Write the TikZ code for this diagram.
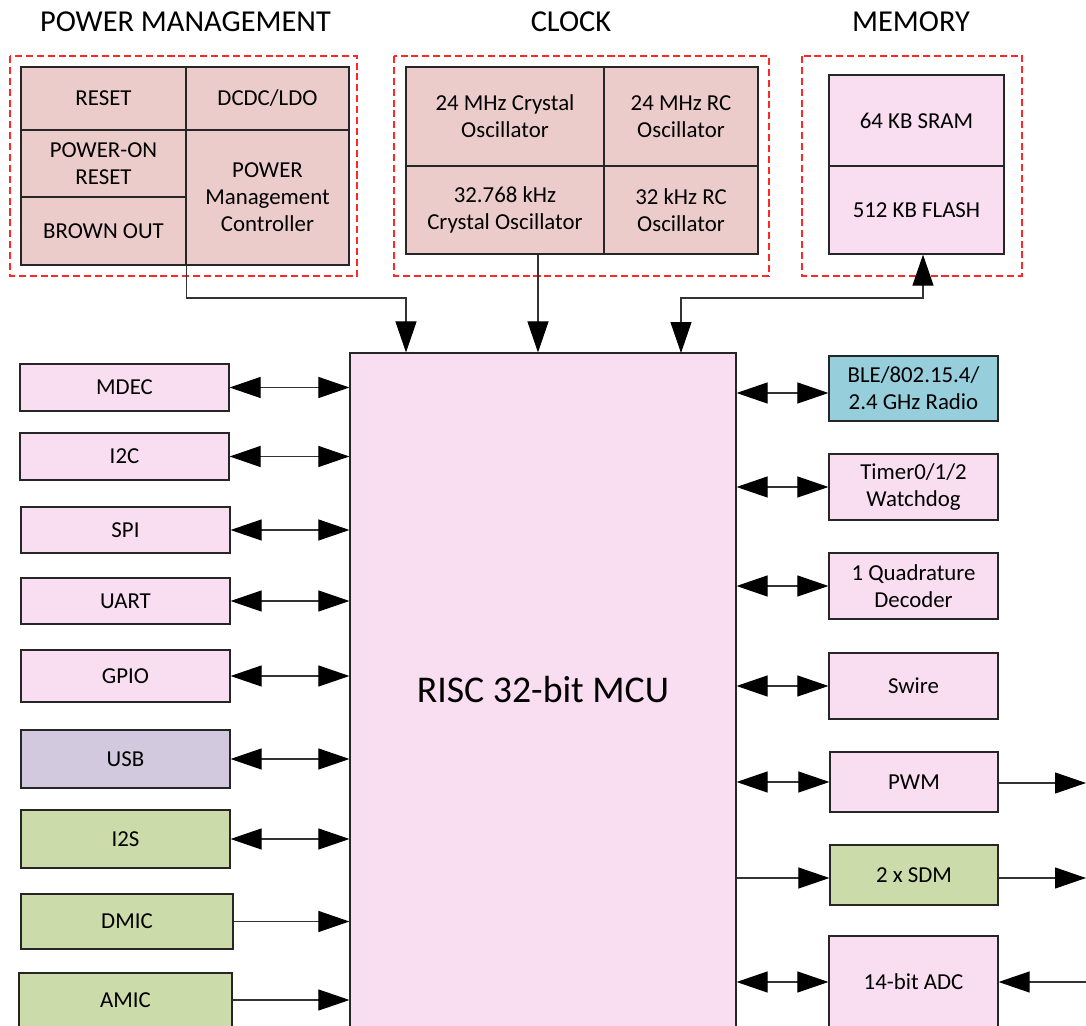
\documentclass[tikz,border=0pt]{standalone}
\usepackage{fontspec}
\setmainfont{Carlito}
\usetikzlibrary{arrows.meta}
\definecolor{pinkf}{RGB}{249,222,242}
\definecolor{rosef}{RGB}{236,204,203}
\definecolor{bluef}{RGB}{150,206,220}
\definecolor{lavf}{RGB}{210,201,222}
\definecolor{greenf}{RGB}{204,219,170}
\definecolor{grpred}{RGB}{255,40,40}
\begin{document}
\begin{tikzpicture}[x=0.02cm,y=-0.02cm,
  box/.style={draw=black!85, line width=0.7pt, inner sep=0pt, align=center,
    font=\fontsize{13}{15.3}\selectfont},
  pinkbox/.style={box, fill=pinkf},
  rosebox/.style={box, fill=rosef},
  greenbox/.style={box, fill=greenf},
  grp/.style={draw=grpred, dash pattern=on 4pt off 2.2pt, line width=0.6pt},
  ttl/.style={font=\fontsize{17.3}{20}\selectfont, anchor=base, inner sep=0pt},
  conn/.style={draw=black!80, line width=0.6pt},
  >={Triangle[length=0.62cm,width=0.42cm,color=black]}]
\clip (0,0) rectangle (1086,1026);
\fill[white] (0,0) rectangle (1086,1026);

% titles
\node[ttl] (tpm) at (185.5,32) {POWER MANAGEMENT};
\node[ttl] (tclk) at (571,32) {CLOCK};
\node[ttl] (tmem) at (911,32) {MEMORY};

% group frames
\draw[grp] (10,56) rectangle (357,276);
\draw[grp] (394,56) rectangle (769,276);
\draw[grp] (802,56) rectangle (1022,276);

% power management
\node[rosebox, minimum width=3.30cm, minimum height=1.26cm] (reset) at (103.5,98.5) {RESET};
\node[rosebox, minimum width=3.30cm, minimum height=1.34cm] (por) at (103.5,163.5) {POWER-ON\\RESET};
\node[rosebox, minimum width=3.30cm, minimum height=1.36cm] (bo) at (103.5,231) {BROWN OUT};
\node[rosebox, minimum width=3.26cm, minimum height=1.26cm] (dcdc) at (267.5,98.5) {DCDC/LDO};
\node[rosebox, minimum width=3.26cm, minimum height=2.70cm] (pmc) at (267.5,197.5) {POWER\\Management\\Controller};

% clock
\node[rosebox, minimum width=3.96cm, minimum height=1.98cm] (x24) at (505,116.5) {24 MHz Crystal\\Oscillator};
\node[rosebox, minimum width=3.08cm, minimum height=1.98cm] (rc24) at (681,116.5) {24 MHz RC\\Oscillator};
\node[rosebox, minimum width=3.96cm, minimum height=1.76cm] (x32) at (505,210) {32.768 kHz\\Crystal Oscillator};
\node[rosebox, minimum width=3.08cm, minimum height=1.76cm] (rc32) at (681,210) {32 kHz RC\\Oscillator};

% memory
\node[pinkbox, minimum width=3.50cm, minimum height=1.82cm] (sram) at (916.5,120.5) {64 KB SRAM};
\node[pinkbox, minimum width=3.50cm, minimum height=1.76cm] (flash) at (916.5,210) {512 KB FLASH};

% MCU
\node[pinkbox, minimum width=7.72cm, minimum height=13.48cm,
  font=\fontsize{21.5}{25}\selectfont] (mcu) at (543,690) {RISC 32-bit MCU};

% left peripherals
\node[pinkbox, minimum width=4.18cm, minimum height=0.94cm] (mdec) at (124.5,387.5) {MDEC};
\node[pinkbox, minimum width=4.18cm, minimum height=0.94cm] (i2c) at (124.5,456.5) {I2C};
\node[pinkbox, minimum width=4.18cm, minimum height=0.92cm] (spi) at (125.5,530) {SPI};
\node[pinkbox, minimum width=4.18cm, minimum height=0.92cm] (uart) at (125.5,601) {UART};
\node[pinkbox, minimum width=4.18cm, minimum height=1.04cm] (gpio) at (125.5,676) {GPIO};
\node[box, fill=lavf, minimum width=4.18cm, minimum height=1.16cm] (usb) at (125.5,759) {USB};
\node[greenbox, minimum width=4.18cm, minimum height=1.16cm] (i2s) at (125.5,839) {I2S};
\node[greenbox, minimum width=4.24cm, minimum height=1.10cm] (dmic) at (127,921.5) {DMIC};
\node[greenbox, minimum width=4.26cm, minimum height=1.08cm] (amic) at (125.5,1000) {AMIC};

% right peripherals
\node[box, fill=bluef, minimum width=3.38cm, minimum height=1.30cm] (ble) at (913.5,388.5) {BLE/802.15.4/\\2.4 GHz Radio};
\node[pinkbox, minimum width=3.38cm, minimum height=1.32cm] (timer) at (913.5,487) {Timer0/1/2\\Watchdog};
\node[pinkbox, minimum width=3.38cm, minimum height=1.32cm] (quad) at (913.5,586) {1 Quadrature\\Decoder};
\node[pinkbox, minimum width=3.38cm, minimum height=1.32cm] (swire) at (913.5,686) {Swire};
\node[pinkbox, minimum width=3.36cm, minimum height=1.20cm] (pwm) at (914,782) {PWM};
\node[greenbox, minimum width=3.36cm, minimum height=1.20cm] (sdm) at (914,875) {2 x SDM};
\node[pinkbox, minimum width=3.38cm, minimum height=1.84cm] (adc) at (913.5,982) {14-bit ADC};

% free ends at the right edge
\coordinate (pwmout) at (1086,783);
\coordinate (sdmout) at (1086,878);
\coordinate (adcin) at (1086,982);

% top connectors
\coordinate (bend1) at (406,298);
\coordinate (bend3) at (923,298);
\draw[conn,->] (bo.south east) |- (bend1) -- (bend1 |- mcu.north);
\draw[conn,->] ([xshift=0.66cm]x32.south) -- ([xshift=0.66cm]x32.south |- mcu.north);
\draw[conn,<->] (681,353) |- (bend3) -- (bend3 |- flash.south);

% left connectors
\foreach \n in {mdec,i2c,spi,uart,gpio,usb,i2s}
  \draw[conn,<->] (\n.east) -- (\n.east -| mcu.west);
\foreach \n in {dmic,amic}
  \draw[conn,->] (\n.east) -- (\n.east -| mcu.west);

% right connectors
\draw[conn,<->] ([yshift=-0.09cm]ble.west -| mcu.east) -- ([yshift=-0.09cm]ble.west);
\foreach \n in {timer,quad,swire,pwm,adc}
  \draw[conn,<->] (\n.west -| mcu.east) -- (\n.west);
\draw[conn,->] ([yshift=-0.06cm]sdm.west -| mcu.east) -- ([yshift=-0.06cm]sdm.west);
\draw[conn,->] (pwm.east |- pwmout) -- (pwmout);
\draw[conn,->] (sdm.east |- sdmout) -- (sdmout);
\draw[conn,->] (adcin) -- (adc.east |- adcin);
\end{tikzpicture}
\end{document}
